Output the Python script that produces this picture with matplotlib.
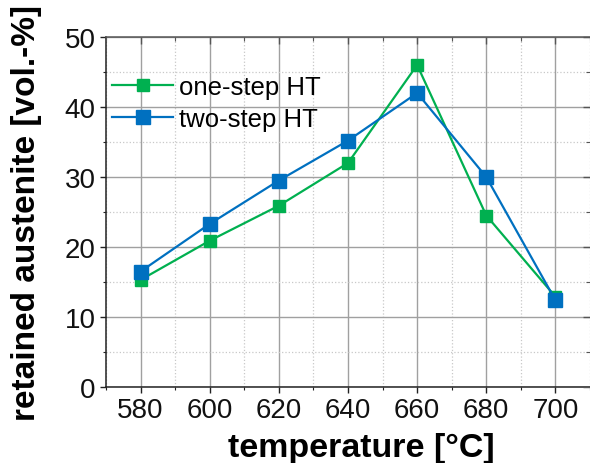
import matplotlib
matplotlib.use("Agg")
import matplotlib.pyplot as plt
from matplotlib.ticker import MultipleLocator

plt.rcParams['font.family'] = ['Liberation Sans', 'DejaVu Sans']

temperature = [580, 600, 620, 640, 660, 680, 700]
one_step = [15.3, 20.9, 25.9, 32.0, 46.0, 24.5, 12.9]
two_step = [16.5, 23.3, 29.5, 35.2, 42.0, 30.0, 12.4]

xlim = (570, 710)
ylim = (0, 50)

fig = plt.figure(figsize=(5.9, 4.64), dpi=100)
rect = [106 / 590, 1 - 388 / 464, (590 - 106) / 590, (388 - 38) / 464]
ax = fig.add_axes(rect)

ax.plot(temperature, one_step, color='#00B050', lw=1.6, marker='s', ms=9,
        label='one-step HT', zorder=3)
ax.plot(temperature, two_step, color='#0070C0', lw=1.6, marker='s', ms=10.5,
        label='two-step HT', zorder=4)

ax.set_xlim(*xlim)
ax.set_ylim(*ylim)
ax.xaxis.set_major_locator(MultipleLocator(20))
ax.xaxis.set_minor_locator(MultipleLocator(10))
ax.yaxis.set_major_locator(MultipleLocator(10))
ax.yaxis.set_minor_locator(MultipleLocator(5))

ax.grid(which='major', color='#a0a0a0', lw=1.0, ls='-')
ax.grid(which='minor', color='#c8c8c8', lw=0.9, ls=':')
ax.set_axisbelow(True)

# bottom/left ticks point outward
ax.tick_params(which='both', direction='out', top=False, right=False,
               labelsize=20, color='#222222', labelcolor='#111111')
ax.tick_params(which='major', length=4, width=1.0, pad=3.5)
ax.tick_params(which='minor', length=2.5, width=0.8)
for name, s in ax.spines.items():
    s.set_color('#222222' if name in ('left', 'bottom') else '#555555')
    s.set_linewidth(1.1)
ax.spines['right'].set_visible(False)

# top/right ticks point inward, drawn on mirrored axes
axt = ax.twiny()
axr = ax.twinx()
axt.set_xlim(*xlim)
axr.set_ylim(*ylim)
axt.xaxis.set_major_locator(MultipleLocator(20))
axt.xaxis.set_minor_locator(MultipleLocator(10))
axr.yaxis.set_major_locator(MultipleLocator(10))
axr.yaxis.set_minor_locator(MultipleLocator(5))
for a in (axt, axr):
    a.tick_params(which='both', direction='in', color='#555555',
                  labeltop=False, labelright=False, labelbottom=False, labelleft=False)
    a.tick_params(which='major', length=5, width=1.0)
    a.tick_params(which='minor', length=3, width=0.8)
    for s in a.spines.values():
        s.set_visible(False)
axt.tick_params(axis='y', which='both', left=False, right=False)
axr.tick_params(axis='x', which='both', top=False, bottom=False)

ax.set_xlabel('temperature [°C]', fontsize=24.5, fontweight='bold')
ax.xaxis.set_label_coords(0.527, -0.128)
ax.xaxis.label.set_va('top')
ax.set_ylabel('retained austenite [vol.-%]', fontsize=24, fontweight='bold')
ax.yaxis.set_label_coords(-0.133, 0.5)

ax.legend(loc='upper left', bbox_to_anchor=(-0.02, 0.935), frameon=False,
          fontsize=18.5, handlelength=2.4, handletextpad=0.2, borderaxespad=0.2,
          labelspacing=0.3)

fig.savefig('out.png', dpi=100)
